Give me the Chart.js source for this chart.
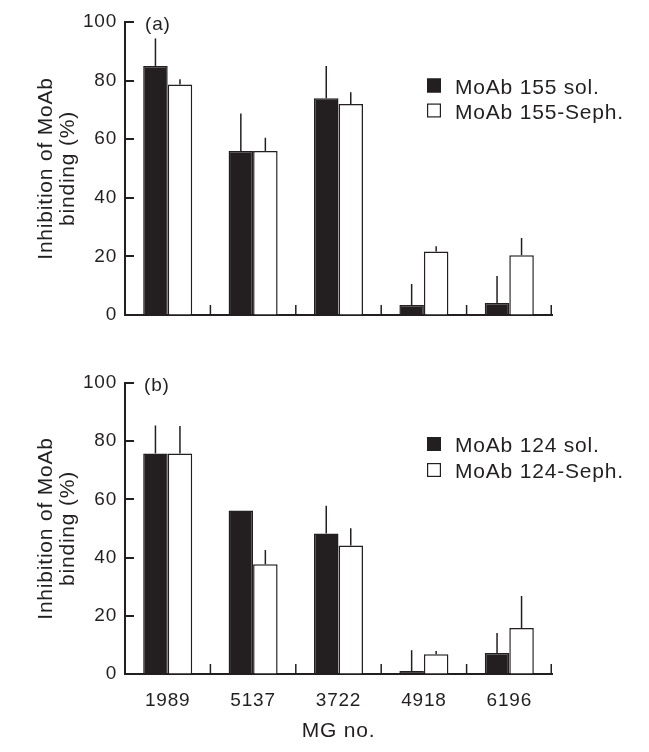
<!DOCTYPE html>
<html><head><meta charset="utf-8">
<script src="https://cdn.jsdelivr.net/npm/chart.js@4/dist/chart.umd.min.js"></script>
<style>
html,body{margin:0;padding:0;background:#fff;}
body{width:649px;height:752px;position:relative;overflow:hidden;}
canvas{position:absolute;left:0;display:block;}
</style></head><body>
<canvas id="cA" width="649" height="345" style="top:0"></canvas>
<canvas id="cB" width="649" height="407" style="top:345px"></canvas>
<script>
// ---- data ----
const categories = ['1989', '5137', '3722', '4918', '6196'];
const yTicks = [0, 20, 40, 60, 80, 100];
// panel (a)
const solA     = [85, 56, 74, 3.4, 4.1];
const solAErr  = [9.4, 12.8, 11, 7.2, 9.2];
const sephA    = [78.7, 56, 72, 21.7, 20.4];
const sephAErr = [1.8, 4.5, 4, 1.8, 5.9];
// panel (b)
const solB     = [75.8, 56.2, 48.3, 1.0, 7.2];
const solBErr  = [9.6, 0, 9.5, 7.2, 6.9];
const sephB    = [75.8, 37.7, 44.2, 6.8, 15.8];
const sephBErr = [9.4, 4.9, 5.9, 1.1, 11.0];
const legendA = ['MoAb 155 sol.', 'MoAb 155-Seph.'];
const legendB = ['MoAb 124 sol.', 'MoAb 124-Seph.'];
const yTitle = ['Inhibition of MoAb', 'binding (%)'];
const xTitle = 'MG no.';

const ink = '#231f20';
const FONT = "'Liberation Sans', Arial, Helvetica, sans-serif";
Chart.defaults.font.family = FONT;
Chart.defaults.color = ink;

const spacingPlugin = {
  id: 'spacing',
  beforeDraw(chart) { chart.ctx.letterSpacing = '0.8px'; }
};

const axisTicksPlugin = {
  id: 'axisTicks',
  afterDraw(chart) {
    const ctx = chart.ctx, xs = chart.scales.x, ys = chart.scales.y, a = chart.chartArea;
    ctx.save();
    ctx.strokeStyle = ink;
    ctx.lineWidth = 2;
    ys.ticks.forEach(t => {
      if (t.value === 0) return;
      const py = Math.round(ys.getPixelForValue(t.value));
      ctx.beginPath(); ctx.moveTo(a.left, py); ctx.lineTo(a.left + 9, py); ctx.stroke();
    });
    ctx.lineWidth = 1.5;
    const n = chart.data.labels.length;
    for (let i = 0; i < n; i++) {
      const px = i < n - 1 ? (xs.getPixelForTick(i) + xs.getPixelForTick(i + 1)) / 2 : a.right - 0.75;
      ctx.beginPath(); ctx.moveTo(px, a.bottom); ctx.lineTo(px, a.bottom - 10); ctx.stroke();
    }
    ctx.restore();
  }
};

const errorBarsPlugin = {
  id: 'errorBars',
  afterDatasetsDraw(chart) {
    const ctx = chart.ctx, ys = chart.scales.y;
    ctx.save();
    ctx.strokeStyle = ink;
    ctx.lineWidth = 1.5;
    chart.data.datasets.forEach((ds, di) => {
      const meta = chart.getDatasetMeta(di);
      meta.data.forEach((bar, i) => {
        const e = ds.errorBars[i];
        if (!e) return;
        const yTop = ys.getPixelForValue(ds.data[i] + e);
        ctx.beginPath(); ctx.moveTo(bar.x, bar.y); ctx.lineTo(bar.x, yTop); ctx.stroke();
      });
    });
    ctx.restore();
  }
};

const customLegendPlugin = {
  id: 'customLegend',
  afterDraw(chart, args, opts) {
    const ctx = chart.ctx;
    ctx.save();
    ctx.font = '21px ' + FONT;
    ctx.textBaseline = 'alphabetic';
    ctx.textAlign = 'left';
    chart.data.datasets.forEach((ds, i) => {
      const y = opts.tops[i];
      ctx.fillStyle = ds.backgroundColor;
      ctx.fillRect(opts.x, y, 14, 14);
      ctx.strokeStyle = ink; ctx.lineWidth = 1.2;
      ctx.strokeRect(opts.x + 0.6, y + 0.6, 12.8, 12.8);
      ctx.fillStyle = ink;
      ctx.fillText(ds.label, opts.x + 28, y + 15);
    });
    ctx.restore();
  }
};

const panelLabelPlugin = {
  id: 'panelLabel',
  afterDraw(chart, args, opts) {
    const ctx = chart.ctx;
    ctx.save();
    ctx.font = '19px ' + FONT;
    ctx.fillStyle = ink;
    ctx.textAlign = 'left';
    ctx.textBaseline = 'middle';
    ctx.fillText(opts.text, opts.x, opts.y);
    ctx.restore();
  }
};

function makeChart(id, sol, solErr, seph, sephErr, legend, cfg) {
  return new Chart(document.getElementById(id), {
    type: 'bar',
    data: {
      labels: categories,
      datasets: [
        { label: legend[0], data: sol, errorBars: solErr, backgroundColor: ink, borderColor: ink,
          borderWidth: 1.5, categoryPercentage: 0.574, barPercentage: 1.0 },
        { label: legend[1], data: seph, errorBars: sephErr, backgroundColor: '#ffffff', borderColor: ink,
          borderWidth: 1.5, categoryPercentage: 0.574, barPercentage: 1.0 }
      ]
    },
    options: {
      responsive: false,
      animation: false,
      devicePixelRatio: 1,
      layout: { padding: { top: cfg.padTop, right: 97, bottom: 0, left: 0 } },
      plugins: {
        legend: { display: false },
        tooltip: { enabled: false },
        customLegend: { x: 427, tops: cfg.legendTops },
        panelLabel: { text: cfg.panel, x: cfg.panelX, y: cfg.panelY }
      },
      scales: {
        x: {
          offset: true,
          ticks: { display: cfg.showX, font: { size: 19 }, color: ink, padding: 15, maxRotation: 0, autoSkip: false },
          grid: { display: true, drawOnChartArea: false, drawTicks: false, offset: true },
          border: { display: true, color: ink, width: 2 },
          title: { display: cfg.showX, text: xTitle, color: ink, font: { size: 21, lineHeight: 1.2 },
                   padding: { top: 0, bottom: 8 } },
          afterFit: s => { s.height = cfg.xHeight; }
        },
        y: {
          min: 0, max: 100,
          afterBuildTicks: s => { s.ticks = yTicks.map(v => ({ value: v })); },
          ticks: { font: { size: 19 }, color: ink, padding: 8 },
          grid: { display: true, drawOnChartArea: false, drawTicks: false },
          border: { display: true, color: ink, width: 2 },
          title: { display: true, text: yTitle, color: ink, font: { size: 21, lineHeight: '22px' },
                   padding: { top: 35, bottom: 0 } },
          afterFit: s => { s.width = 125; }
        }
      }
    },
    plugins: [spacingPlugin, errorBarsPlugin, axisTicksPlugin, customLegendPlugin, panelLabelPlugin]
  });
}

makeChart('cA', solA, solAErr, sephA, sephAErr, legendA,
  { padTop: 22, xHeight: 30, showX: false, legendTops: [78.5, 103.5], panel: '(a)', panelX: 145, panelY: 25 });
makeChart('cB', solB, solBErr, sephB, sephBErr, legendB,
  { padTop: 38, xHeight: 78, showX: true, legendTops: [92, 118], panel: '(b)', panelX: 144, panelY: 41 });
</script>
</body></html>
